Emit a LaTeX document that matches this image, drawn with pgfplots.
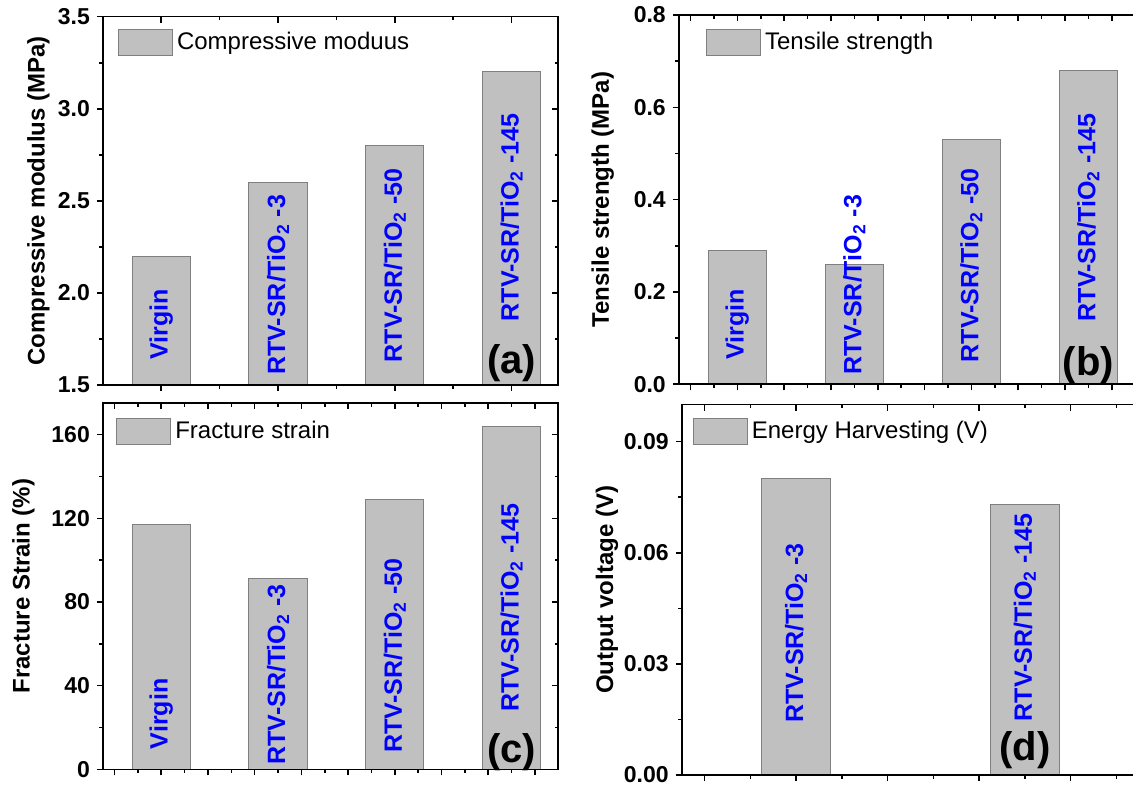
\documentclass[border=0pt]{standalone}
\usepackage{pgfplots}
\pgfplotsset{compat=1.18}
\usepackage{fontspec}
\setmainfont{Liberation Sans}
\definecolor{barfill}{HTML}{C0C0C0}
\definecolor{baredge}{HTML}{7F7F7F}

\tikzset{
  barlab/.style={rotate=90, anchor=west, inner sep=0pt, text=blue, font=\fontsize{12.5}{14}\selectfont\bfseries},
  panlab/.style={anchor=base, inner sep=0pt, font=\fontsize{20}{22}\selectfont\bfseries},
}
\pgfplotsset{
  mybar/.style={fill=barfill, draw=baredge, line width=0.5pt,
    legend image code/.code={\draw[draw=baredge, fill=barfill, line width=0.6pt] (0pt,-6.5pt) rectangle (27pt,6.5pt);}},
  panel/.style={
    scale only axis, anchor=south west,
    axis line style={line width=0.8pt},
    tick style={line width=0.8pt, black},
    major tick length=3pt, minor tick length=1.8pt,
    tick align=outside, tick pos=left,
    xticklabels={},
    /pgf/number format/assume math mode=true,
    yticklabel style={font=\fontsize{11.5}{12}\selectfont\bfseries},
    ylabel style={font=\fontsize{12}{14}\selectfont\bfseries},
    legend style={draw=none, fill=none, inner sep=0pt, font=\fontsize{12}{14}\selectfont, anchor=north west},
    legend cell align=left,
    ybar, bar width=0.5,
    clip=false,
  },
  over/.style={
    scale only axis, anchor=south west,
    axis line style={line width=0.8pt},
    tick style={line width=0.8pt, black},
    major tick length=3pt, minor tick length=1.8pt,
    tick align=inside, tick pos=right,
    xticklabels={}, yticklabels={},
  },
}

\begin{document}
\begin{tikzpicture}
\path[use as bounding box] (0,0) rectangle (566.5pt,393pt);

% ---------------- (a)
\begin{axis}[panel, at={(51.45pt,200.5pt)}, width=227.65pt, height=184.15pt,
  xmin=0.5, xmax=4.4, ymin=1.5, ymax=3.5,
  xtick={1,2,3,4}, minor xtick={1.5,2.5,3.5},
  ytick={1.5,2.0,2.5,3.0,3.5}, minor ytick={1.75,2.25,2.75,3.25},
  yticklabel style={/pgf/number format/.cd, fixed, fixed zerofill, precision=1},
  ylabel={Compressive modulus (MPa)}, ylabel shift=-2.7pt,
  legend style={at={(rel axis cs:0.032,0.97)}},
]
\addplot[mybar] coordinates {(1,2.2) (2,2.6) (3,2.8) (4,3.2)};
\addlegendentry{Compressive moduus}
\node[barlab] at (axis cs:1,1.636) {Virgin};
\node[barlab] at (axis cs:2,1.554) {RTV-SR/TiO\textsubscript{2} -3};
\node[barlab] at (axis cs:3,1.621) {RTV-SR/TiO\textsubscript{2} -50};
\node[barlab] at (axis cs:4,1.844) {RTV-SR/TiO\textsubscript{2} -145};
\node[panlab] at (axis cs:4,1.565) {(a)};
\end{axis}
\begin{axis}[over, at={(51.45pt,200.5pt)}, width=227.65pt, height=184.15pt,
  xmin=0.5, xmax=4.4, ymin=1.5, ymax=3.5,
  xtick={1,2,3,4}, minor xtick={1.5,2.5,3.5},
  ytick={1.5,2.0,2.5,3.0,3.5}, minor ytick={1.75,2.25,2.75,3.25}]
\end{axis}

% ---------------- (b)
\begin{axis}[panel, at={(339.4pt,200.85pt)}, width=234pt, height=184.65pt,
  xmin=0.5, xmax=4.5, ymin=0, ymax=0.8,
  xtick={0.6,1,1.4,1.8,2.2,2.6,3,3.4,3.8,4.2}, minor xtick={0.8,1.2,1.6,2,2.4,2.8,3.2,3.6,4,4.4},
  ytick={0,0.2,0.4,0.6,0.8}, minor ytick={0.1,0.3,0.5,0.7},
  yticklabel style={/pgf/number format/.cd, fixed, fixed zerofill, precision=1},
  ylabel={Tensile strength (MPa)}, ylabel shift=3pt,
  legend style={at={(rel axis cs:0.057,0.966)}},
]
\addplot[mybar] coordinates {(1,0.29) (2,0.26) (3,0.53) (4,0.68)};
\addlegendentry{Tensile strength}
\node[barlab] at (axis cs:1,0.0526) {Virgin};
\node[barlab] at (axis cs:2,0.020) {RTV-SR/TiO\textsubscript{2} -3};
\node[barlab] at (axis cs:3,0.0468) {RTV-SR/TiO\textsubscript{2} -50};
\node[barlab] at (axis cs:4,0.1356) {RTV-SR/TiO\textsubscript{2} -145};
\node[panlab] at (axis cs:4,0.018) {(b)};
\end{axis}
\begin{axis}[over, at={(339.4pt,200.85pt)}, width=234pt, height=184.65pt,
  xmin=0.5, xmax=4.5, ymin=0, ymax=0.8,
  xtick={0.6,1,1.4,1.8,2.2,2.6,3,3.4,3.8,4.2}, minor xtick={0.8,1.2,1.6,2,2.4,2.8,3.2,3.6,4,4.4},
  ytick={0,0.2,0.4,0.6,0.8}, minor ytick={0.1,0.3,0.5,0.7}]
\end{axis}

% ---------------- (c)
\begin{axis}[panel, at={(51.45pt,8.35pt)}, width=227.65pt, height=183pt,
  xmin=0.5, xmax=4.4, ymin=0, ymax=175,
  xtick={0.6,1,1.4,1.8,2.2,2.6,3,3.4,3.8,4.2}, minor xtick={0.8,1.2,1.6,2,2.4,2.8,3.2,3.6,4},
  ytick={0,40,80,120,160}, minor ytick={20,60,100,140},
  ylabel={Fracture Strain (\%)}, ylabel shift=1.5pt,
  legend style={at={(rel axis cs:0.028,0.963)}},
]
\addplot[mybar] coordinates {(1,117) (2,91) (3,129) (4,164)};
\addlegendentry{Fracture strain}
\node[barlab] at (axis cs:1,9.5) {Virgin};
\node[barlab] at (axis cs:2,2.1) {RTV-SR/TiO\textsubscript{2} -3};
\node[barlab] at (axis cs:3,7.9) {RTV-SR/TiO\textsubscript{2} -50};
\node[barlab] at (axis cs:4,27.5) {RTV-SR/TiO\textsubscript{2} -145};
\node[panlab] at (axis cs:4,3.1) {(c)};
\end{axis}
\begin{axis}[over, at={(51.45pt,8.35pt)}, width=227.65pt, height=183pt,
  xmin=0.5, xmax=4.4, ymin=0, ymax=175,
  xtick={0.6,1,1.4,1.8,2.2,2.6,3,3.4,3.8,4.2}, minor xtick={0.8,1.2,1.6,2,2.4,2.8,3.2,3.6,4},
  ytick={0,40,80,120,160}, minor ytick={20,60,100,140}]
\end{axis}

% ---------------- (d)
\begin{axis}[panel, at={(340.85pt,5.5pt)}, width=228.8pt, height=185.2pt,
  xmin=0.5, xmax=2.5, ymin=0, ymax=0.1, bar width=0.3,
  xtick={0.6,1,1.4,1.8,2.2}, minor xtick={0.8,1.2,1.6,2,2.4},
  ytick={0,0.03,0.06,0.09}, minor ytick={0.015,0.045,0.075},
  yticklabel style={/pgf/number format/.cd, fixed, fixed zerofill, precision=2},
  ylabel={Output voltage (V)}, ylabel shift=-4pt,
  legend style={at={(rel axis cs:0.023,0.967)}},
]
\addplot[mybar] coordinates {(1,0.080) (2,0.073)};
\addlegendentry{Energy Harvesting (V)}
\node[barlab] at (axis cs:1,0.01396) {RTV-SR/TiO\textsubscript{2} -3};
\node[barlab] at (axis cs:2,0.0144) {RTV-SR/TiO\textsubscript{2} -145};
\node[panlab] at (axis cs:2,0.00386) {(d)};
\end{axis}
\begin{axis}[over, at={(340.85pt,5.5pt)}, width=228.8pt, height=185.2pt,
  xmin=0.5, xmax=2.5, ymin=0, ymax=0.1,
  xtick={0.6,1,1.4,1.8,2.2}, minor xtick={0.8,1.2,1.6,2,2.4},
  ytick={0,0.03,0.06,0.09}, minor ytick={0.015,0.045,0.075}]
\end{axis}
\end{tikzpicture}
\end{document}
